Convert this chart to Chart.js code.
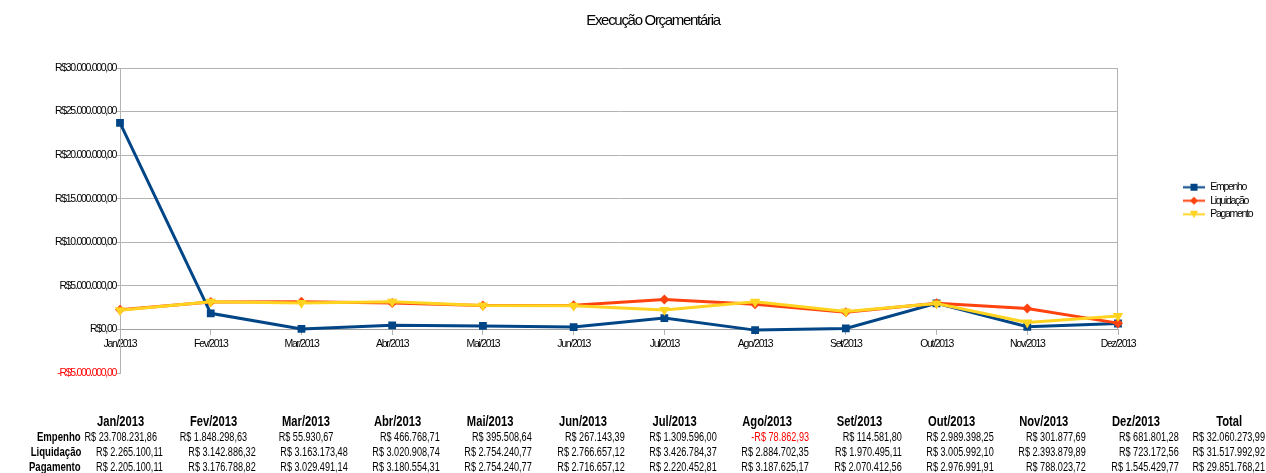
<!DOCTYPE html>
<html>
<head>
<meta charset="utf-8">
<script src="https://cdn.jsdelivr.net/npm/chart.js@4.4.1/dist/chart.umd.min.js"></script>
<style>
  body { margin: 0; background: #fff; }
  #wrap { position: relative; width: 1266px; height: 473px; overflow: hidden; }
  #chart { position: absolute; left: 0; top: 0; }
  .cell { position: absolute; width: 140px; font-family: "Liberation Sans", Arial, sans-serif; font-size: 12px; line-height: 15px; white-space: nowrap; color: #000; }
  .cell span { display: inline-block; transform: scaleX(0.76); }
  .hd { font-weight: bold; font-size: 14px; }
  .hd span { transform: scaleX(0.8); }
  .rl { font-weight: bold; font-size: 12px; }
  .rl span { transform: scaleX(0.8); }
</style>
</head>
<body>
<div id="wrap">
  <canvas id="chart" width="1266" height="473"></canvas>
  <div id="tbl"></div>
</div>
<script>
// dados da planilha
const meses = ['Jan/2013', 'Fev/2013', 'Mar/2013', 'Abr/2013', 'Mai/2013', 'Jun/2013', 'Jul/2013', 'Ago/2013', 'Set/2013', 'Out/2013', 'Nov/2013', 'Dez/2013'];
const empenho = [23708231.86, 1848298.63, 55930.67, 466768.71, 395508.64, 267143.39, 1309596.00, -78862.93, 114581.80, 2989398.25, 301877.69, 681801.28];
const liquidacao = [2265100.11, 3142886.32, 3163173.48, 3020908.74, 2754240.77, 2766657.12, 3426784.37, 2884702.35, 1970495.11, 3005992.10, 2393879.89, 723172.56];
const pagamento = [2205100.11, 3176788.82, 3029491.14, 3180554.31, 2754240.77, 2716657.12, 2220452.81, 3187625.17, 2070412.56, 2976991.91, 788023.72, 1545429.77];
const series = ['Empenho', 'Liquidação', 'Pagamento'];
const cores = ['#004586', '#ff420e', '#ffd320'];
const yMin = -5000000, yMax = 30000000, yStep = 5000000;

const FONT = '"Liberation Sans", Arial, sans-serif';
const GRID = '#b3b3b3';

function brl(v, space) {
  const neg = v < 0;
  const p = Math.abs(v).toFixed(2).split('.');
  const inteiro = p[0].replace(/\B(?=(\d{3})+(?!\d))/g, '.');
  return (neg ? '-' : '') + 'R$' + (space ? ' ' : '') + inteiro + ',' + p[1];
}

// amostra de linha + marcador para a legenda
function amostra(ds) {
  const c = document.createElement('canvas');
  c.width = 22; c.height = 11;
  const g = c.getContext('2d');
  g.strokeStyle = ds.borderColor;
  g.lineWidth = 2;
  g.beginPath(); g.moveTo(0, 5.5); g.lineTo(22, 5.5); g.stroke();
  g.fillStyle = ds.borderColor;
  g.beginPath();
  if (ds.pointStyle === 'rect') g.rect(7.5, 2, 7, 7);
  else if (ds.pointStyle === 'rectRot') { g.moveTo(11, 1.5); g.lineTo(15, 5.5); g.lineTo(11, 9.5); g.lineTo(7, 5.5); }
  else { g.moveTo(7, 2); g.lineTo(15, 2); g.lineTo(11, 9.5); }
  g.closePath(); g.fill();
  return c;
}

// texto espremido como no original + posicao da legenda/titulo + borda direita
const ajustes = {
  id: 'ajustes',
  afterLayout(chart) {
    const lg = chart.legend;
    const w = lg.width, h = lg.height;
    lg.left = 1180; lg.right = lg.left + w;
    lg.top = 179; lg.bottom = lg.top + h;
    const t = chart.titleBlock;
    t.left = 40; t.right = 1266;
  },
  beforeDraw(chart) {
    chart.ctx.letterSpacing = '-1.3px';
  },
  beforeDatasetsDraw(chart) {
    const a = chart.chartArea, y = chart.scales.y;
    const ctx = chart.ctx;
    ctx.save();
    ctx.strokeStyle = GRID;
    ctx.lineWidth = 1;
    ctx.beginPath();
    ctx.moveTo(a.right - 0.5, a.top);
    ctx.lineTo(a.right - 0.5, y.getPixelForValue(0));
    ctx.stroke();
    ctx.restore();
  }
};

const valores = [empenho, liquidacao, pagamento];
const estilos = ['rect', 'rectRot', 'triangle'];
const raios = [5.5, 5, 6];

new Chart('chart', {
  type: 'line',
  data: {
    labels: meses,
    datasets: series.map((nome, i) => ({
      label: nome,
      data: valores[i],
      borderColor: cores[i],
      backgroundColor: cores[i],
      borderWidth: 3,
      pointStyle: estilos[i],
      pointRadius: raios[i],
      pointRotation: estilos[i] === 'triangle' ? 180 : 0,
      pointBorderWidth: 0,
      tension: 0,
      order: 3 - i
    }))
  },
  options: {
    responsive: false,
    animation: false,
    layout: { padding: { left: 0, right: 148, top: 0, bottom: 100 } },
    plugins: {
      title: {
        display: true,
        text: 'Execução Orçamentária',
        color: '#000',
        font: { family: FONT, size: 15, weight: 'normal' },
        padding: { top: 12, bottom: 38 }
      },
      legend: {
        position: 'chartArea',
        align: 'start',
        labels: {
          usePointStyle: true,
          pointStyleWidth: 22,
          color: '#000',
          font: { family: FONT, size: 10.5 },
          padding: 3,
          generateLabels: chart => chart.data.datasets.map((ds, i) => ({
            text: ds.label,
            pointStyle: amostra(ds),
            fillStyle: ds.borderColor,
            strokeStyle: ds.borderColor,
            lineWidth: 0,
            hidden: false,
            datasetIndex: i
          }))
        }
      },
      tooltip: { enabled: false }
    },
    scales: {
      x: {
        position: { y: 0 },
        offset: false,
        grid: {
          drawOnChartArea: false,
          tickColor: GRID,
          tickLength: 5
        },
        border: { color: '#a0a0a0', width: 1 },
        ticks: { color: '#000', font: { family: FONT, size: 10.5 }, padding: 3, maxRotation: 0, autoSkip: false }
      },
      y: {
        min: yMin,
        max: yMax,
        afterFit: s => { s.width = 120; },
        grid: {
          color: ctx => ctx.tick && ctx.tick.value < 0 ? 'rgba(0,0,0,0)' : GRID,
          tickColor: GRID,
          tickLength: 3
        },
        border: { color: GRID },
        ticks: {
          stepSize: yStep,
          padding: 1,
          font: { family: FONT, size: 10.5 },
          color: ctx => ctx.tick.value < 0 ? '#ff0000' : '#000',
          callback: v => brl(v, false)
        }
      }
    }
  },
  plugins: [ajustes]
});

// tabela de dados abaixo do grafico (celulas largas para nao transbordar)
const tbl = document.getElementById('tbl');
const W = 140;
function cell(txt, cls, anchor, top, align, color) {
  const d = document.createElement('div');
  d.className = 'cell ' + cls;
  d.style.left = (align === 'right' ? anchor - W : anchor - W / 2) + 'px';
  d.style.top = top + 'px';
  d.style.textAlign = align;
  const s = document.createElement('span');
  s.textContent = txt;
  s.style.transformOrigin = align === 'right' ? 'right center' : 'center center';
  if (color) s.style.color = color;
  d.appendChild(s);
  tbl.appendChild(d);
}
const rowTop = [414, 430, 445, 460];
const centro = i => 121 + 92.3 * i;
const total = arr => Math.round(arr.reduce((a, b) => a + b, 0) * 100) / 100;

meses.forEach((m, i) => cell(m, 'hd', centro(i), rowTop[0], 'center'));
cell('Total', 'hd', 1229, rowTop[0], 'center');
series.forEach((nome, r) => {
  cell(nome, 'rl', 81, rowTop[r + 1], 'right');
  valores[r].forEach((v, i) => {
    const centrado = r === 0 && i < 3;
    if (centrado) cell(brl(v, true), '', centro(i), rowTop[r + 1], 'center');
    else cell(brl(v, true), '', centro(i) + 42, rowTop[r + 1], 'right', v < 0 ? '#ff0000' : null);
  });
  cell(brl(total(valores[r]), true), '', 1229, rowTop[r + 1], 'center');
});
</script>
</body>
</html>
